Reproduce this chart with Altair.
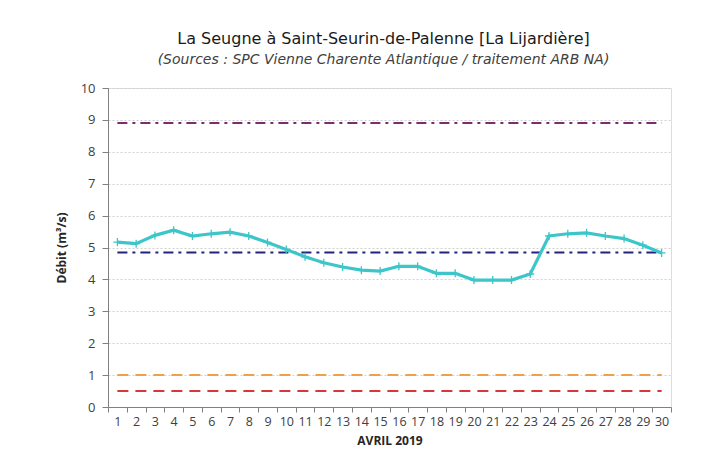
import altair as alt
import pandas as pd

days = list(range(1, 31))
debit = [5.17, 5.12, 5.38, 5.54, 5.36, 5.43, 5.48, 5.36, 5.16, 4.94,
         4.71, 4.52, 4.39, 4.29, 4.26, 4.41, 4.41, 4.19, 4.19, 3.98,
         3.98, 3.98, 4.17, 5.36, 5.43, 5.46, 5.36, 5.28, 5.07, 4.83]

seuil_names = ["s1", "s2", "s3", "s4"]
seuil_values = [8.9, 4.84, 1.0, 0.5]
seuil_colors = ["#7B2D6E", "#23237E", "#F0A04B", "#D8373C"]
seuil_dashes = [[10, 5, 3, 5], [10, 5, 3, 5], [11, 7], [11, 7]]

y_ticks = list(range(0, 11))

df = pd.DataFrame({"jour": days, "debit": debit})
seuils = pd.DataFrame(
    [{"nom": n, "valeur": v, "jour": d} for n, v in zip(seuil_names, seuil_values) for d in days]
)

FONT = "Open Sans"
TFONT = "DejaVu Sans"

x_scale = alt.Scale(type="band", domain=days, paddingInner=0, paddingOuter=0)
y_scale = alt.Scale(domain=[0, 10], nice=False)

x_axis = alt.Axis(
    title="AVRIL 2019",
    labelAngle=0,
    tickBand="extent",
    labelFontSize=12.5,
    labelColor="#404040",
    labelFont=FONT,
    labelPadding=3,
    tickSize=5,
    tickColor="#808080",
    domainColor="#808080",
    grid=False,
    titleFont=FONT,
    titleFontSize=12,
    titleFontWeight="bold",
    titleColor="#262626",
    titlePadding=8,
    labelOverlap=False,
)

y_axis = alt.Axis(
    title="Débit (m³/s)",
    values=y_ticks,
    tickCount=11,
    labelOverlap=False,
    labelFontSize=13,
    labelColor="#404040",
    labelFont=FONT,
    labelPadding=7,
    tickSize=6,
    tickColor="#808080",
    domainColor="#808080",
    grid=True,
    gridColor="#D0D0D0",
    gridDash=[2, 2],
    titleFont=FONT,
    titleFontSize=12,
    titleFontWeight="bold",
    titleColor="#262626",
    titlePadding=12,
)

rules = alt.Chart(seuils).mark_line(strokeWidth=2).encode(
    x=alt.X("jour:O", scale=x_scale, axis=x_axis, bandPosition=0.5),
    y=alt.Y("valeur:Q", scale=y_scale, axis=y_axis),
    color=alt.Color("nom:N", scale=alt.Scale(domain=seuil_names, range=seuil_colors), legend=None),
    strokeDash=alt.StrokeDash("nom:N", scale=alt.Scale(domain=seuil_names, range=seuil_dashes), legend=None),
    detail="nom:N",
)

base_line = alt.Chart(df).mark_line(color="#3CC6C9", strokeWidth=3.2).encode(
    x=alt.X("jour:O", scale=x_scale, axis=x_axis, bandPosition=0.5),
    y=alt.Y("debit:Q", scale=y_scale, axis=y_axis),
)

markers = alt.Chart(df).mark_point(
    shape="M-1,0L1,0M0,-1L0,1", filled=False, size=64, strokeWidth=1.3,
    color="#3CC6C9", opacity=1,
).encode(
    x=alt.X("jour:O", scale=x_scale, axis=x_axis, bandPosition=0.5),
    y=alt.Y("debit:Q", scale=y_scale, axis=y_axis),
)

chart = alt.layer(rules, base_line, markers).properties(
    width=563,
    height=319,
    padding={"left": 100, "top": 80, "right": 20, "bottom": 50},
    autosize=alt.AutoSizeParams(type="none"),
    title=alt.TitleParams(
        text="La Seugne à Saint-Seurin-de-Palenne [La Lijardière]",
        subtitle="(Sources : SPC Vienne Charente Atlantique / traitement ARB NA)",
        anchor="middle",
        frame="group",
        font=TFONT,
        fontSize=16,
        fontWeight="normal",
        color="#1A1A1A",
        subtitleFont=TFONT,
        subtitleFontSize=14,
        subtitleFontStyle="italic",
        subtitleColor="#404040",
        subtitlePadding=6,
        offset=15,
        dx=-6,
    ),
).configure_view(
    stroke="#A6A6A6", strokeWidth=1.5,
).configure(background="white")

chart.save("out.html", embed_options={"renderer": "svg", "actions": False})
